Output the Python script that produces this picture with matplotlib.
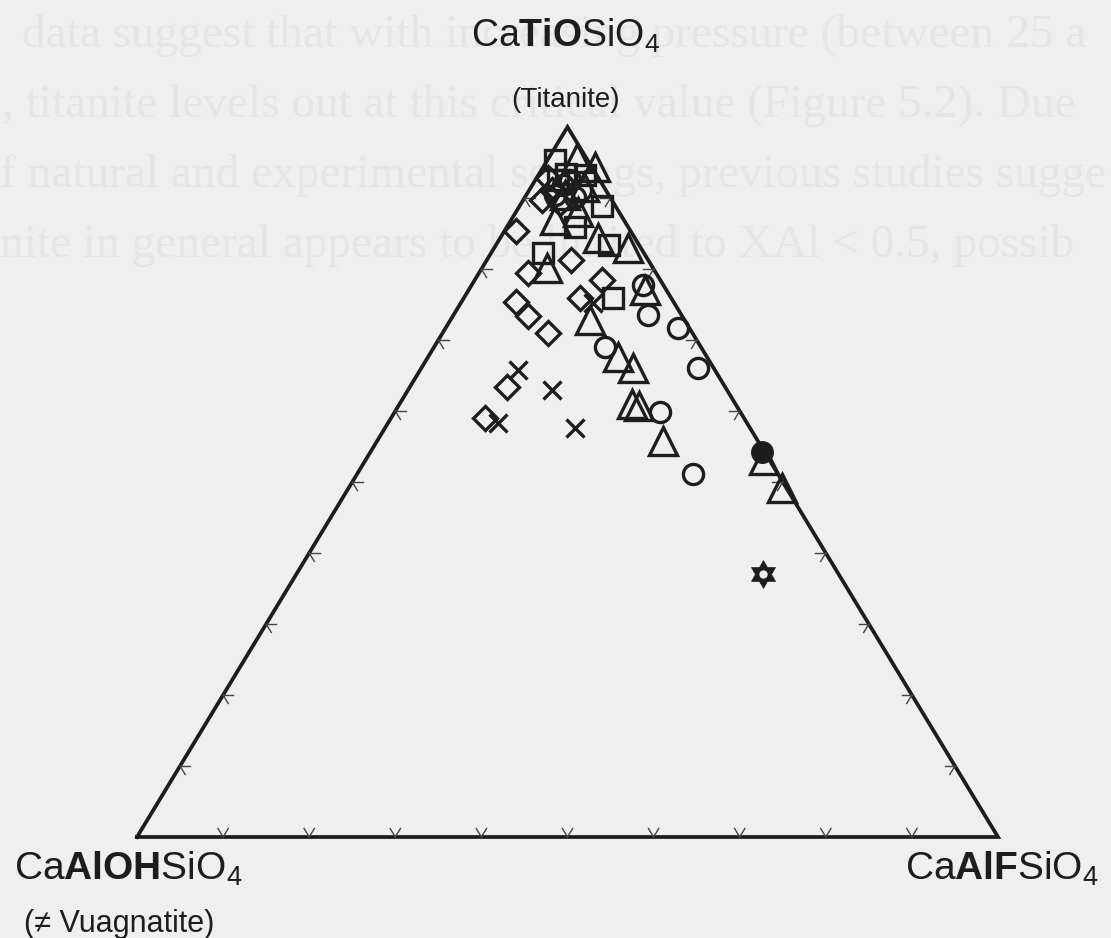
import matplotlib.pyplot as plt
from matplotlib.path import Path
from matplotlib.markers import MarkerStyle

plt.rcParams['font.family'] = ['Liberation Sans', 'DejaVu Sans']
plt.rcParams['mathtext.fontset'] = 'custom'
plt.rcParams['mathtext.rm'] = 'Liberation Sans'
plt.rcParams['mathtext.bf'] = 'Liberation Sans:bold'
plt.rcParams['mathtext.it'] = 'Liberation Sans:italic'

# compositions as mole fractions: X(CaTiOSiO4) and X(CaAlFSiO4)
sq_ti = [0.954, 0.934, 0.925, 0.932, 0.889, 0.859, 0.834, 0.822, 0.759]
sq_f = [0.008, 0.031, 0.026, 0.054, 0.096, 0.079, 0.131, 0.060, 0.173]

dia_ti = [0.897, 0.911, 0.893, 0.928, 0.853, 0.794, 0.813, 0.753, 0.734,
          0.710, 0.784, 0.759, 0.634, 0.590]
dia_f = [0.022, 0.026, 0.045, 0.013, 0.014, 0.057, 0.097, 0.064, 0.087,
         0.122, 0.148, 0.135, 0.113, 0.109]

tri_ti = [0.956, 0.944, 0.915, 0.904, 0.880, 0.869, 0.844, 0.830, 0.801,
          0.770, 0.728, 0.676, 0.661, 0.610, 0.607, 0.558, 0.531, 0.491]
tri_f = [0.033, 0.060, 0.062, 0.045, 0.072, 0.051, 0.114, 0.155, 0.076,
         0.205, 0.162, 0.221, 0.246, 0.270, 0.280, 0.332, 0.463, 0.504]

circ_ti = [0.918, 0.901, 0.904, 0.925, 0.911, 0.777, 0.735, 0.717, 0.690,
           0.661, 0.599, 0.511]
circ_f = [0.036, 0.058, 0.034, 0.040, 0.060, 0.199, 0.226, 0.270, 0.199,
          0.321, 0.308, 0.390]

cross_ti = [0.752, 0.658, 0.630, 0.583, 0.576]
cross_f = [0.154, 0.114, 0.167, 0.128, 0.221]

dot_ti = [0.542]
dot_f = [0.455]

star_ti = [0.370]
star_f = [0.542]

ink = '#1d1d1d'
paper = '#efefef'
W, H = 1111, 938


def tern(ti, f):
    # x along the base (OH -> F), y up to the Ti apex
    x = [b + a / 2 for a, b in zip(ti, f)]
    return x, list(ti)


fig = plt.figure(figsize=(W / 100, H / 100), dpi=100, facecolor=paper)

# faint print showing through from the other side of the page
ghost = ['data suggest that with increasing pressure (between 25 a',
         ', titanite levels out at this critical value (Figure 5.2). Due',
         'f natural and experimental settings, previous studies sugge',
         'nite in general appears to be limited to XAl < 0.5, possib']
ghost_x = [22, 2, 0, 0]
for i, line in enumerate(ghost):
    fig.text(ghost_x[i] / W, 1 - (47 + 70 * i) / H, line, color='#e5e5e5',
             fontsize=34, family='Liberation Serif', va='baseline', zorder=0)

ax = fig.add_axes([137 / W, 101 / H, 861 / W, 710 / H])
ax.set_zorder(5)
ax.set_xlim(0, 1)
ax.set_ylim(0, 1)
ax.axis('off')
ax.patch.set_alpha(0)

ax.plot([0, 1, 0.5, 0], [0, 0, 1, 0], color=ink, lw=2.7,
        solid_joinstyle='miter', clip_on=False, zorder=3)

# small inward ticks every 10 mol%
L = 0.012
for k in range(1, 10):
    v = k / 10
    segs = [
        ([0, L], [v, v]), ([0, L], [v, v - L]),          # base
        ([v, v], [0, L]), ([v, v - L], [0, L]),          # left side
        ([v, v], [1 - v, 1 - v - L]), ([v, v - L], [1 - v, 1 - v]),  # right side
    ]
    for ti, f in segs:
        x, y = tern(ti, f)
        ax.plot(x, y, color='#444444', lw=1.0, clip_on=False, zorder=3)

common = dict(ls='none', mfc='none', mec=ink, clip_on=False, zorder=4)

x, y = tern(sq_ti, sq_f)
ax.plot(x, y, marker='s', ms=14.5, mew=2.4, **common)
x, y = tern(dia_ti, dia_f)
ax.plot(x, y, marker='D', ms=12, mew=2.4, **common)
x, y = tern(tri_ti, tri_f)
ax.plot(x, y, marker='^', ms=20, mew=2.4, **common)
x, y = tern(circ_ti, circ_f)
ax.plot(x, y, marker='o', ms=14.5, mew=2.4, **common)
x, y = tern(cross_ti, cross_f)
ax.plot(x, y, ls='none', marker='x', ms=12.5, mew=2.4, color=ink,
        clip_on=False, zorder=4)
x, y = tern(dot_ti, dot_f)
ax.plot(x, y, ls='none', marker='o', ms=15.5, mfc=ink, mec=ink, mew=1,
        clip_on=False, zorder=5)

hexagram = MarkerStyle(Path.unit_regular_star(6, 0.577))
x, y = tern(star_ti, star_f)
ax.plot(x, y, ls='none', marker=hexagram, ms=20, mfc=ink, mec=ink, mew=0.5,
        clip_on=False, zorder=5)
ax.plot(x, y, ls='none', marker='o', ms=5, mfc=paper, mec=paper,
        clip_on=False, zorder=6)

# end-member labels
fig.text(566 / W, 1 - 47 / H, r'$\mathrm{Ca}\mathbf{TiO}\mathrm{SiO}_4$',
         ha='center', va='baseline', fontsize=27, color=ink, zorder=6)
fig.text(566 / W, 1 - 107 / H, '(Titanite)', ha='center', va='baseline',
         fontsize=20, color=ink, zorder=6)
fig.text(14 / W, 1 - 880 / H, r'$\mathrm{Ca}\mathbf{AlOH}\mathrm{SiO}_4$',
         ha='left', va='baseline', fontsize=28, color=ink, zorder=6)
fig.text(24 / W, 1 - 932 / H, '(≠ Vuagnatite)', ha='left', va='baseline',
         fontsize=22, color=ink, zorder=6)
fig.text(1099 / W, 1 - 880 / H, r'$\mathrm{Ca}\mathbf{AlF}\mathrm{SiO}_4$',
         ha='right', va='baseline', fontsize=28, color=ink, zorder=6)

fig.savefig('out.png', dpi=100, facecolor=paper)
